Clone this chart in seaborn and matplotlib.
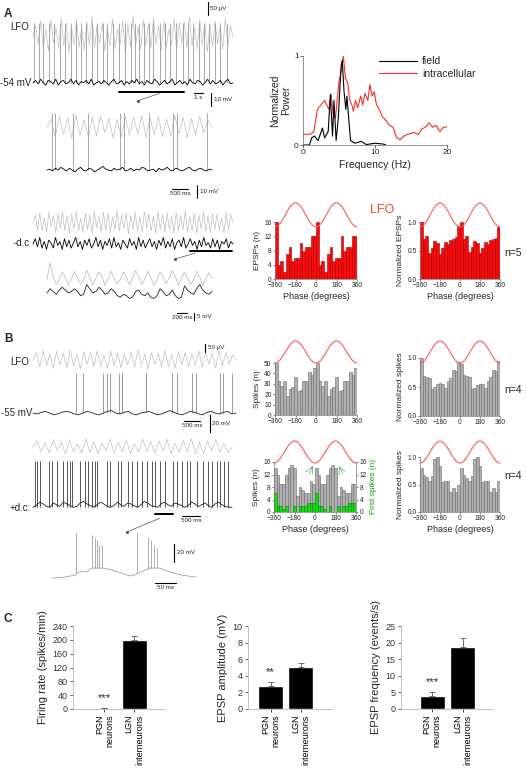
import numpy as np
import pandas as pd
import matplotlib
matplotlib.use('Agg')
import matplotlib.pyplot as plt
from matplotlib.lines import Line2D
import seaborn as sns

sns.set_theme(style='ticks')
plt.rcParams['font.family'] = ['Liberation Sans', 'DejaVu Sans']
plt.rcParams['axes.linewidth'] = 0.5

# ---------------- data ----------------
# A, top trace (22 s): LFO in uV, Vm deviations in mV around -54 mV, spike times in s
lfo_a1 = [0, 60, -40, 85, -55, 40, -70, 95, -30, 50, -60, 100, -45, 70, -80, 55, -35, 90, -50, 45,
          -65, 80, -40, 105, -55, 60, -30, 75, -70, 50, -45, 95, -60, 40, -35, 85, -75, 65, -50, 110,
          -40, 55, -60, 90, -45, 70, -55, 100, -35, 60, -70, 85, -50, 45, -40, 95, -65, 75, -30, 80,
          -55, 105, -45, 50, -60, 90, -40, 70, -75, 65, -50, 85, -35, 55, -60, 95, -45, 60, 0]
vm_a1 = [0, 2, -1, 3, 0, -2, 2, 1, -1, 3, -2, 1, 2, -1, 0, 3, -1, 2, -2, 1, 0, 2, -1, 3, -2, 0, 1, -1,
         2, 0, -2, 1, 3, -1, 0, 2, -2, 1, -1, 2, 0, 3, -1, 1, -2, 2, 0, -1, 3, 1, -2, 0, 2, -1, 1, 3,
         -2, 0, 2, -1, 1, -2, 3, 0, -1, 2, 1, -2, 0, 3, -1, 2, -1, 0, 2, -2, 1, 3, -1, 0]
spk_a1 = [0.1, 0.7, 1.1, 1.8, 2.3, 3.0, 3.5, 4.2, 4.7, 5.3, 5.8, 6.5, 7.0, 7.7, 8.1, 8.8, 9.5, 10.1,
          10.8, 11.2, 11.7, 12.2, 12.8, 13.2, 14.0, 14.5, 15.1, 15.7, 16.5, 17.1, 17.6, 18.3, 18.8,
          19.4, 20.0, 20.6, 21.3]

# A, expanded trace (5.2 s)
lfo_a2 = [0, 40, -50, 55, -35, 45, -55, 60, -40, 35, -50, 50, -45, 60, -30, 45, -55, 40, -50, 55,
          -40, 50, -35, 60, -55, 45, -40, 55, -50, 40, -45, 60, -35, 50, -55, 45, -40, 55, -30, 40, 0]
vm_a2 = [0, 1, -1, 2, 0, 3, 1, -1, 2, 0, -2, 1, 3, 0, -1, 2, 1, -2, 0, 2, 4, 1, 0, -1, 2, 0, 1, 3,
         -1, 0, 2, -1, 1, 0, 3, 2, -1, 0, 1, -2, 2, 0, 1, 3, 0, -1, 2, 1, -1, 0, 2, 3, 0, -1, 1, 2,
         0, -1, 1, 0]
spk_a2 = [0.16, 0.25, 0.82, 1.29, 2.30, 2.43, 3.21, 3.97, 4.10, 5.04]

# A, -d.c. trace (22 s)
lfo_a3 = [0, 30, -25, 38, -30, 20, -35, 40, -15, 28, -38, 35, -20, 42, -30, 25, -40, 33, -22, 45,
          -28, 18, -35, 38, -25, 30, -40, 44, -18, 26, -33, 40, -28, 36, -38, 22, -25, 46, -30, 30,
          -20, 38, -42, 28, -26, 40, -32, 24, -36, 42, -20, 34, -30, 26, -40, 44, -24, 32, -34, 38,
          -22, 28, -38, 40, -28, 30, -26, 45, -35, 24, -30, 36, -40, 30, -22, 42, -32, 28, -36, 38,
          -25, 34, -30, 20, -38, 40, -26, 32, 0]
vm_a3 = [0, 4, -2, 5, -3, 2, -4, 3, 1, -3, 5, -1, 2, -4, 4, -2, 3, -3, 1, 5, -2, 2, -4, 3, -1, 4,
         -3, 0, 5, -2, 3, -4, 2, -1, 4, -3, 5, -2, 1, -4, 3, 0, -3, 4, -1, 2, -4, 5, -2, 3, -3, 1,
         4, -2, 2, -4, 3, -1, 5, -3, 2, -2, 4, -4, 1, 3, -2, 5, -3, 0, 4, -1, 2, -4, 3, -2, 5, -1,
         1, -3, 4, -2, 3, -4, 2, 0, 4, -3, 2, 0]

# A, expanded -d.c. trace (3.3 s)
lfo_a4 = [-10, 110, 10, -45, -10, 45, 5, -50, -5, 50, 0, -45, -10, 55, 5, -50, 0, 45, 10, -55, -5,
          50, 0, -40, -10, 45, 5, -50, 0, 55, 10, -45, -5, 50, 0, -55, -10, 45, 5, -40, 0, 55, 10,
          -50, -5, 45, 0, -45, -10, 50, 5, -55, 0, 40, 0]
vm_a4 = [0, 3, 1, -1, 2, 4, 2, 0, 1, 3, 1, -2, -1, 6, 3, 0, 1, 4, 2, -1, 0, 3, 1, -2, -3, -1, -2,
         -4, -3, 1, 2, -1, -2, 0, -3, -4, -2, 3, 1, -2, -1, 2, -2, -4, -3, 5, 2, 0, -1, 3, 6, 2, 0,
         -1, 1]

# B, rest trace (6 s) around -55 mV
lfo_b1 = [0, 55, -50, 70, -40, 45, -60, 65, -35, 50, -55, 75, -45, 40, -65, 60, -30, 55, -50, 70,
          -45, 35, -60, 65, -40, 50, -55, 45, -35, 60, -50, 75, -40, 45, -65, 55, -30, 50, -55, 70,
          -45, 40, -60, 65, -35, 55, -50, 45, -40, 70, -55, 60, -30, 50, -60, 75, -45, 55, -35, 40, 0]
vm_b1 = [0, -1, 1, 2, 0, -2, -1, 1, 2, 1, -1, -2, 0, 2, 1, -1, -2, 0, 2, 3, 0, -1, 1, 2, -1, -2, 0,
         1, 2, 0, -2, -1, 1, 3, 1, -1, -2, 0, 2, 1, -1, -2, 1, 2, 0, -1, 1, 2, -1, 0]
spk_b1 = [1.27, 1.48, 2.07, 2.19, 2.28, 2.54, 2.63, 3.34, 4.11, 4.26, 4.70, 4.82, 5.53, 5.62, 5.89]

# B, +d.c. trace (5.5 s)
lfo_b2 = [0, 45, -30, 30, -40, 55, -25, 35, -45, 50, -30, 25, -40, 60, -35, 40, -45, 30, -25, 55,
          -40, 35, -30, 50, -45, 25, -35, 60, -30, 40, -40, 45, -25, 55, -45, 30, -35, 50, -30, 60,
          -40, 35, -45, 45, -25, 55, -35, 30, -40, 0]
vm_b2 = [0, 2, 6, 4, 1, 0, 5, 3, 1, 6, 4, 2, 0, 1, 5, 7, 4, 2, 0, 3, 6, 4, 1, 0, 2, 6, 3, 1, 5, 4,
         2, 0, 3, 7, 5, 2, 1, 0, 4, 6, 3, 1, 5, 4, 2, 0, 2, 6, 4, 1, 3, 5, 2, 0, 4, 6, 3, 1, 0, 0]
spk_b2 = [0.06, 0.11, 0.19, 0.44, 0.52, 0.66, 0.83, 0.94, 1.02, 1.08, 1.30, 1.44, 1.52, 1.63, 1.71,
          1.77, 2.04, 2.13, 2.35, 2.43, 2.62, 2.74, 2.87, 3.01, 3.15, 3.29, 3.37, 3.51, 3.65, 3.87,
          3.98, 4.12, 4.25, 4.34, 4.53, 4.70, 4.83, 4.94, 5.08, 5.17, 5.28, 5.39]

# B, expanded burst trace (ms, mV)
b3_t = [0, 31, 55, 62, 86, 95, 124, 143, 167, 186, 195, 210, 224, 231, 257, 281, 310, 343]
b3_vm = [-63.3, -62.2, -60, -56.7, -55.6, -52.2, -52.2, -54.4, -57.8, -61.1, -60, -56.7, -54.4,
         -52.2, -52.2, -56.7, -60, -62.2]
b3_spk = [57, 95, 102, 107, 112, 119, 202, 229, 236, 243, 250]
b3_peak = [-13, -15.6, -19, -21, -27, -27, -13, -18, -21, -27, -30]

# power spectrum
field_f = [0, 0.9, 1.2, 1.6, 2.1, 2.7, 3.0, 3.5, 3.8, 4.1, 4.3, 4.6, 4.9, 5.3, 5.45, 5.7, 5.95,
           6.1, 6.3, 6.6, 7.2, 8.1, 8.8, 10.0, 11.2, 11.5]
field_p = [0, 0, 0.08, 0.10, 0.05, 0.19, 0.08, 0.15, 0.57, 0.10, 0.50, 0.05, 0.30, 0.90, 0.95,
           0.60, 0.40, 0.55, 0.35, 0.05, 0.02, 0.04, 0.005, 0.02, 0.01, 0]
intra_f = [0, 1.0, 1.5, 2.0, 2.5, 3.0, 3.3, 3.6, 3.9, 4.2, 4.5, 4.8, 5.0, 5.3, 5.6, 5.9, 6.2, 6.5,
           6.8, 7.0, 7.3, 7.6, 8.0, 8.3, 8.6, 9.0, 9.3, 9.6, 9.9, 10.2, 10.6, 11.0, 11.5, 12.0,
           12.5, 13.0, 13.5, 14.0, 14.5, 15.0, 15.5, 16.0, 16.5, 17.0, 17.5, 18.0, 18.5, 19.0,
           19.5, 20.0]
intra_p = [0.12, 0.12, 0.15, 0.40, 0.45, 0.50, 0.45, 0.40, 0.57, 0.35, 0.30, 0.55, 0.72, 0.82,
           1.0, 0.75, 0.70, 0.50, 0.45, 0.38, 0.50, 0.42, 0.55, 0.45, 0.58, 0.50, 0.68, 0.55, 0.60,
           0.45, 0.40, 0.32, 0.28, 0.22, 0.20, 0.08, 0.06, 0.10, 0.12, 0.13, 0.14, 0.12, 0.18,
           0.20, 0.25, 0.20, 0.22, 0.15, 0.20, 0.20]

# phase histograms (30 bins of 24 degrees from -360 to 360)
epsp_n = [16, 4, 5, 2, 7, 9, 5, 6, 6, 10, 8, 9, 9, 12, 12, 16, 4, 5, 2, 7, 9, 5, 6, 6, 12, 8, 9, 9, 12, 12]
epsp_norm = [1.0, 0.70, 0.75, 0.46, 0.55, 0.66, 0.64, 0.44, 0.55, 0.65, 0.62, 0.68, 0.70, 0.74, 0.93,
             1.0, 0.70, 0.75, 0.47, 0.56, 0.66, 0.64, 0.45, 0.55, 0.65, 0.62, 0.68, 0.70, 0.72, 0.92]
spk_rest_n = [54, 33, 28, 33, 18, 25, 27, 37, 23, 24, 33, 33, 41, 38, 45,
              54, 33, 28, 33, 18, 25, 27, 37, 23, 24, 33, 33, 41, 38, 45]
spk_rest_norm = [1.0, 0.69, 0.68, 0.66, 0.47, 0.50, 0.55, 0.57, 0.55, 0.48, 0.60, 0.66, 0.80, 0.78, 0.93,
                 0.90, 0.70, 0.69, 0.68, 0.47, 0.49, 0.53, 0.56, 0.55, 0.48, 0.60, 0.68, 0.80, 0.78, 0.95]
spk_dc_n = [14, 12, 9, 9, 12, 14, 15, 14, 5, 8, 7, 6, 6, 10, 9, 14, 12, 9, 9, 12, 14, 15, 14, 5, 8, 7, 6, 6, 9, 9]
first_spk_n = [6, 2, 2, 1, 2, 0, 0, 2, 0, 2, 2, 2, 3, 3, 3, 6, 2, 2, 1, 0, 2, 0, 0, 2, 0, 2, 2, 3, 3, 3]
spk_dc_norm = [0.80, 0.68, 0.63, 0.56, 0.65, 0.97, 1.0, 0.83, 0.54, 0.57, 0.56, 0.37, 0.43, 0.37, 0.50,
               0.80, 0.68, 0.62, 0.56, 0.65, 0.97, 1.0, 0.83, 0.54, 0.57, 0.56, 0.37, 0.43, 0.37, 0.56]

# panel C
groups = ['PGN\nneurons', 'LGN\ninterneurons']
firing = [2, 200]
firing_err = [1, 12]
amp = [2.8, 5.1]
amp_err = [0.4, 0.5]
freq = [3.9, 18.7]
freq_err = [1.1, 2.6]

# ---------------- figure ----------------
W, H = 526, 776
fig = plt.figure(figsize=(W / 100, H / 100), dpi=100)
GRAY = '#c0c0c0'


def rect(x0, y0, x1, y1):
    return [x0 / W, 1 - y1 / H, (x1 - x0) / W, (y1 - y0) / H]


def ftxt(x, y, s, **kw):
    fig.text(x / W, 1 - y / H, s, **kw)


def trace_ax(box, xlim, ylim):
    ax = fig.add_axes(rect(*box))
    ax.set_xlim(xlim)
    ax.set_ylim(ylim)
    ax.axis('off')
    return ax


def line(ax, vals, t_end, off, k, **kw):
    t = np.linspace(0, t_end, len(vals))
    ax.plot(t, off + k * np.array(vals), clip_on=False, **kw)


def hbar(ax, x0, y, length, label, lw=0.8):
    ax.plot([x0, x0 + length], [y, y], color='black', lw=lw, clip_on=False)
    if label:
        ax.annotate(label, (x0 + length / 2, y), xytext=(0, -1.5), textcoords='offset points',
                    ha='center', va='top', fontsize=4.5, annotation_clip=False)


def vbar(ax, x, y0, length, label):
    ax.plot([x, x], [y0, y0 - length], color='black', lw=0.8, clip_on=False)
    ax.annotate(label, (x, y0 - length / 2), xytext=(2, 0), textcoords='offset points',
                ha='left', va='center', fontsize=4.5, annotation_clip=False)


def pointer(ax, start, end):
    ax.plot([start[0], end[0]], [start[1], end[1]], color='#555555', lw=0.5, clip_on=False)
    ax.plot([end[0]], [end[1]], 'o', color='#555555', ms=1.2, clip_on=False)


# --- A traces ---
ftxt(4, 14, 'A', fontsize=8.5, fontweight='bold', va='center')
ax = trace_ax((33, 10, 233, 110), (0, 22), (-75, 2))
line(ax, lfo_a1, 22, -19, 0.15, color=GRAY, lw=0.5)
ax.vlines(spk_a1, -54, -8, color='#9a9a9a', lw=0.6)
line(ax, vm_a1, 22, -54, 0.9, color='black', lw=0.6)
vbar(ax, 19.2, 8.2, 10, '50 \u03bcV')
hbar(ax, 9.5, -61, 7.1, None, lw=1.4)
pointer(ax, (13.9, -62.3), (11.6, -67.7))
hbar(ax, 17.7, -62.2, 1.0, '1 s')
vbar(ax, 19.6, -62.2, 10, '10 mV')
ftxt(29, 27, 'LFO', fontsize=7, ha='right', va='center')
ftxt(31, 83, '-54 mV', fontsize=7, ha='right', va='center')

ax = trace_ax((47, 105, 212, 200), (0, 5.2), (-77, -4))
line(ax, lfo_a2, 5.2, -21, 0.15, color=GRAY, lw=0.5)
ax.vlines(spk_a2, -54, -10, color='#9a9a9a', lw=0.6)
line(ax, vm_a2, 5.2, -54, 0.7, color='black', lw=0.6)
hbar(ax, 3.94, -68.6, 0.5, '500 ms')
vbar(ax, 4.72, -65.5, 10, '10 mV')

ax = trace_ax((33, 205, 233, 258), (0, 22), (-75, -35))
line(ax, lfo_a3, 22, -48.5, 0.2, color=GRAY, lw=0.5)
line(ax, vm_a3, 22, -64.5, 1, color='black', lw=0.6)
hbar(ax, 17.3, -70, 4.6, None, lw=1.4)
pointer(ax, (17.8, -71.4), (15.6, -75.8))
ftxt(30, 243, '-d.c', fontsize=7, ha='right', va='center')

ax = trace_ax((47, 258, 212, 325), (0, 3.3), (-90, -42))
line(ax, lfo_a4, 3.3, -56.4, 0.1, color=GRAY, lw=0.6)
line(ax, vm_a4, 3.3, -67, 1, color='#222222', lw=0.6)
hbar(ax, 2.6, -81.4, 0.2, '200 ms')
vbar(ax, 2.94, -81.4, 5, '5 mV')

# --- B traces ---
ftxt(4, 339, 'B', fontsize=8.5, fontweight='bold', va='center')
ax = trace_ax((33, 340, 236, 425), (0, 6), (-69, 31))
line(ax, lfo_b1, 6, 7.4, 0.16, color=GRAY, lw=0.5)
ax.vlines(spk_b1, -55, -8, color='#8a8a8a', lw=0.6)
line(ax, vm_b1, 6, -55, 1, color='#222222', lw=0.6)
vbar(ax, 5.08, 26.3, 9.4, '50 \u03bcV')
hbar(ax, 4.45, -64.4, 0.5, '500 ms')
vbar(ax, 5.22, -57.4, 20, '20 mV')
ftxt(29, 362, 'LFO', fontsize=7, ha='right', va='center')
ftxt(32, 413, '-55 mV', fontsize=7, ha='right', va='center')

ax = trace_ax((33, 436, 232, 520), (0, 5.5), (-67, 32))
line(ax, lfo_b2, 5.5, 18.6, 0.17, color=GRAY, lw=0.5)
ax.vlines(spk_b2, -52, 3, color='#3a3a3a', lw=0.6)
line(ax, vm_b2, 5.5, -52, 1, color='#222222', lw=0.6)
hbar(ax, 3.37, -60.2, 0.5, None, lw=1.4)
pointer(ax, (3.5, -65), (2.6, -81))
hbar(ax, 4.12, -62.6, 0.5, '500 ms')
ftxt(31, 508, '+d.c.', fontsize=7, ha='right', va='center')

ax = trace_ax((52, 530, 196, 595), (0, 343), (-82, -10))
ax.plot(b3_t, b3_vm, color='#a0a0a0', lw=0.6)
ax.vlines(b3_spk, np.interp(b3_spk, b3_t, b3_vm), b3_peak, color='#a0a0a0', lw=0.6)
vbar(ax, 290, -25, 20, '20 mV')
hbar(ax, 245, -69, 50, '50 ms')

# --- power spectrum ---
ax = fig.add_axes(rect(303, 56, 447, 145))
spec = pd.concat([pd.DataFrame({'f': intra_f, 'p': intra_p, 'src': 'intracellular'}),
                  pd.DataFrame({'f': field_f, 'p': field_p, 'src': 'field'})], ignore_index=True)
sns.lineplot(data=spec, x='f', y='p', hue='src', palette={'intracellular': '#ff2a2a', 'field': 'black'},
             lw=0.8, legend=False, ax=ax)
ax.set_xlim(0, 20)
ax.set_ylim(0, 1)
ax.set_xticks([0, 10, 20])
ax.set_yticks([0, 1])
ax.tick_params(labelsize=6, length=2, width=0.5, pad=1)
ax.set_xlabel('Frequency (Hz)', fontsize=7.5, labelpad=3)
ax.set_ylabel('Normalized\nPower', fontsize=7.5, labelpad=2)
sns.despine(ax=ax)
for s in ax.spines.values():
    s.set_color('#666666')
handles = [Line2D([], [], color='black', lw=0.8), Line2D([], [], color='#ff2a2a', lw=0.8)]
fig.legend(handles, ['field', 'intracellular'], loc='upper left', frameon=False, fontsize=7.5,
           bbox_to_anchor=(375 / W, 1 - 52 / H), handlelength=3.6, handletextpad=0.5,
           labelspacing=0.25, borderaxespad=0)


# --- phase histograms ---
def hist_bars(ax, vals, fc, ec):
    width = 720 / len(vals)
    phase = np.arange(len(vals)) * width - 360 + width / 2
    df = pd.DataFrame({'phase': phase, 'n': vals})
    sns.histplot(data=df, x='phase', weights='n', binwidth=width, binrange=(-360, 360),
                 color=fc, edgecolor=ec, linewidth=0.4, alpha=1, ax=ax)


def phase_hist(box, vals, ymax, yticks, fc, ec, ylabel, xlabel, cos_mid, cos_amp, fmt='%g'):
    ax = fig.add_axes(rect(*box))
    hist_bars(ax, vals, fc, ec)
    ax.set_xlim(-360, 360)
    ax.set_ylim(0, ymax)
    ph = np.linspace(-360, 360, 200)
    ax.plot(ph, cos_mid - cos_amp * np.cos(np.radians(ph)), color='#ff5a5a', lw=0.8, clip_on=False)
    ax.set_xticks([-360, -180, 0, 180, 360])
    ax.set_yticks(yticks)
    ax.yaxis.set_major_formatter(matplotlib.ticker.FormatStrFormatter(fmt))
    ax.tick_params(labelsize=4.8, length=1.5, width=0.4, pad=1)
    ax.set_ylabel(ylabel, fontsize=6, labelpad=2)
    ax.set_xlabel(xlabel, fontsize=6.5, labelpad=2)
    sns.despine(ax=ax)
    for s in ax.spines.values():
        s.set_color('#777777')
    return ax


RED, RED_E = '#ff0a0a', '#a00000'
GB, GB_E = '#b0b0b0', '#6a6a6a'
phase_hist((275, 222, 357, 279), epsp_n, 16, [0, 4, 8, 12, 16], RED, RED_E, 'EPSPs (n)',
           'Phase (degrees)', 18, 3.37)
phase_hist((420, 222, 500, 279), epsp_norm, 1, [0, 0.5, 1], RED, RED_E, 'Normalized EPSPs',
           'Phase (degrees)', 1.123, 0.21, '%.1f')
phase_hist((275, 363, 357, 415), spk_rest_n, 50, [0, 10, 20, 30, 40, 50], GB, GB_E, 'Spikes (n)',
           '', 60.6, 10.6)
phase_hist((420, 358, 500, 416), spk_rest_norm, 1, [0, 0.5, 1], GB, GB_E, 'Normalized spikes',
           '', 1.103, 0.19, '%.1f')
ax = phase_hist((274, 462, 356, 512), spk_dc_n, 16, [0, 4, 8, 12, 16], GB, GB_E, 'Spikes (n)',
                'Phase (degrees)', 19.2, 3.52)
hist_bars(ax, first_spk_n, '#10e010', '#108010')
ax.set_ylabel('Spikes (n)', fontsize=6, labelpad=2)
ax.set_ylim(0, 16)
ax2 = ax.twinx()
ax2.set_ylim(0, 16)
ax2.set_yticks([0, 4, 8, 12, 16])
ax2.tick_params(labelsize=4.8, length=1.5, width=0.4, pad=1)
ax2.set_ylabel('First spikes (n)', fontsize=6, color='#10a010', labelpad=2)
for k, s in ax2.spines.items():
    s.set_color('#777777')
    s.set_visible(k == 'right')
ax.annotate('', xy=(-10, 15.5), xytext=(-60, 11.5),
            arrowprops=dict(arrowstyle='->', color='#20a020', lw=0.6, ls=':'))
ax.annotate('', xy=(200, 15.5), xytext=(250, 11.5),
            arrowprops=dict(arrowstyle='->', color='#20a020', lw=0.6, ls=':'))
phase_hist((420, 457, 500, 512), spk_dc_norm, 1, [0, 0.5, 1], GB, GB_E, 'Normalized spikes',
           'Phase (degrees)', 1.09, 0.2, '%.1f')

ftxt(382, 210, 'LFO', fontsize=9, color='#ff4422', ha='center', va='center')
ftxt(504, 253, 'n=5', fontsize=7.5, va='center')
ftxt(504, 390, 'n=4', fontsize=7.5, va='center')
ftxt(504, 476, 'n=4', fontsize=7.5, va='center')

# --- panel C ---
ftxt(4, 619, 'C', fontsize=8.5, fontweight='bold', va='center')


def bar_panel(box, xlim, vals, errs, ymax, yticks, ylabel, stars):
    ax = fig.add_axes(rect(*box))
    df = pd.DataFrame({'group': groups, 'value': vals})
    sns.barplot(data=df, x='group', y='value', color='black', width=0.82, errorbar=None, ax=ax)
    ax.errorbar([0, 1], vals, yerr=[[0, 0], errs], fmt='none', ecolor='#555555', elinewidth=0.6,
                capsize=2, capthick=0.6)
    ax.text(0, vals[0] + errs[0] + 0.12 * ymax, stars, ha='center', va='center', fontsize=8)
    ax.set_xlim(xlim)
    ax.set_ylim(0, ymax)
    ax.set_yticks(yticks)
    ax.set_xticks([0, 1])
    ax.set_xticklabels(groups, rotation=90, ha='center', va='top', multialignment='right',
                       fontsize=7.5)
    ax.set_xlabel('')
    ax.set_ylabel(ylabel, fontsize=8, labelpad=3)
    ax.tick_params(labelsize=6.5, length=2, width=0.5, pad=2, colors='#333333')
    ax.tick_params(axis='x', colors='black')
    sns.despine(ax=ax)
    for s in ax.spines.values():
        s.set_color('#aaaaaa')


bar_panel((73, 626, 165, 709), (-1.05, 2.02), firing, firing_err, 240,
          [0, 40, 80, 120, 160, 200, 240], 'Firing rate (spikes/min)', '***')
bar_panel((248, 626, 332, 709), (-0.74, 2.02), amp, amp_err, 10, [0, 2, 4, 6, 8, 10],
          'EPSP amplitude (mV)', '**')
bar_panel((401, 626, 493, 709), (-1.02, 2.0), freq, freq_err, 25, [0, 5, 10, 15, 20, 25],
          'EPSP frequency (events/s)', '***')

fig.savefig('out.png', dpi=100)
